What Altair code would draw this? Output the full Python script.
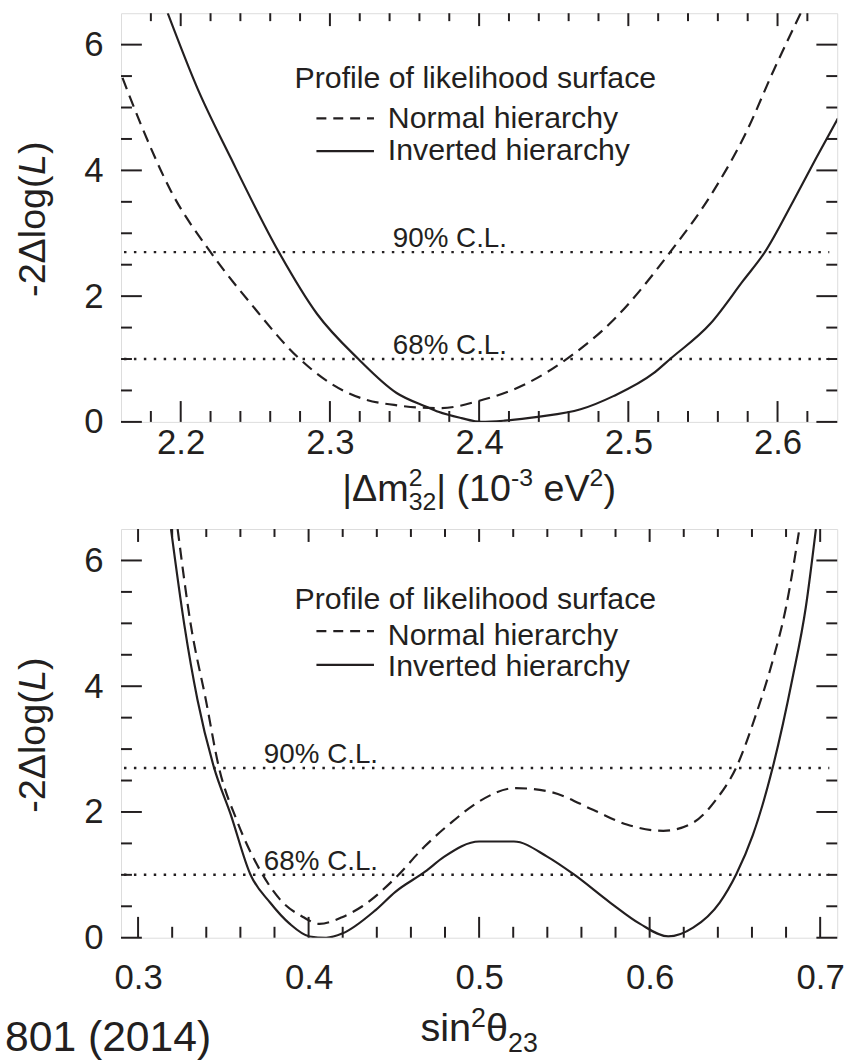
import altair as alt
import pandas as pd

FONT = "Liberation Sans"
INK = "#231f20"
W, H = 722, 412

# ---------------- top panel: |dm^2_32| ----------------
dm_nh_x = [2.161, 2.1735, 2.1935, 2.22, 2.247, 2.278, 2.300, 2.3245, 2.343, 2.358, 2.375, 2.3993,
           2.4327, 2.4593, 2.490, 2.528, 2.557, 2.5793, 2.597, 2.6155]
dm_nh_y = [5.47, 4.72, 3.67, 2.70, 1.88, 1.04, 0.62, 0.35, 0.27, 0.23, 0.22, 0.33,
           0.62, 1.01, 1.62, 2.70, 3.67, 4.62, 5.57, 6.5]
dm_ih_x = [2.1913, 2.2113, 2.2335, 2.2658, 2.2913, 2.3191, 2.3447, 2.3647, 2.3727, 2.3882, 2.4015,
           2.4171, 2.4393, 2.468, 2.490, 2.5167, 2.528, 2.5549, 2.5771, 2.5915, 2.6105, 2.626, 2.6405]
dm_ih_y = [6.5, 5.30, 4.20, 2.70, 1.72, 1.00, 0.46, 0.24, 0.16, 0.06, 0.0,
           0.02, 0.08, 0.20, 0.41, 0.77, 1.00, 1.56, 2.25, 2.70, 3.51, 4.20, 4.83]

# ---------------- bottom panel: sin^2 theta_23 ----------------
s_nh_x = [0.3232, 0.3309, 0.3397, 0.3474, 0.358, 0.3716, 0.3832, 0.3967, 0.4064, 0.42, 0.4315,
          0.4509, 0.468, 0.4845, 0.499, 0.5214, 0.5418, 0.5671, 0.5866, 0.608, 0.6255, 0.6391,
          0.6508, 0.6625, 0.6722, 0.68, 0.6878]
s_nh_y = [6.5, 4.98, 3.79, 2.71, 1.86, 1.07, 0.61, 0.33, 0.22, 0.33, 0.50,
          0.95, 1.45, 1.85, 2.15, 2.38, 2.32, 2.03, 1.80, 1.70, 1.83, 2.20,
          2.71, 3.56, 4.41, 5.26, 6.5]
s_ih_x = [0.3193, 0.3271, 0.3348, 0.3445, 0.3542, 0.3658, 0.3774, 0.389, 0.4006, 0.4103, 0.42,
          0.4393, 0.4509, 0.4683, 0.4796, 0.5, 0.5204, 0.5399, 0.5554, 0.5768, 0.5944, 0.6109,
          0.6255, 0.6411, 0.6508, 0.6605, 0.6722, 0.6838, 0.6916, 0.6975]
s_ih_y = [6.5, 4.98, 3.79, 2.71, 1.97, 1.01, 0.56, 0.22, 0.02, 0.0, 0.07,
          0.44, 0.73, 1.05, 1.29, 1.53, 1.53, 1.29, 1.01, 0.56, 0.22, 0.02,
          0.16, 0.56, 1.01, 1.63, 2.71, 4.13, 5.26, 6.5]

# confidence levels
cl_levels = [2.7, 1.0]
cl_labels = ["90% C.L.", "68% C.L."]

# ticks
y_major = [0, 2, 4, 6]
y_minor = [0.5, 1, 1.5, 2.5, 3, 3.5, 4.5, 5, 5.5]
dm_major = [2.2, 2.3, 2.4, 2.5, 2.6]
dm_minor = [2.18, 2.22, 2.24, 2.26, 2.28, 2.32, 2.34, 2.36, 2.38, 2.42, 2.44, 2.46, 2.48,
            2.52, 2.54, 2.56, 2.58, 2.62]
s_major = [0.3, 0.4, 0.5, 0.6, 0.7]
s_minor = [0.32, 0.34, 0.36, 0.38, 0.42, 0.44, 0.46, 0.48, 0.52, 0.54, 0.56, 0.58,
           0.62, 0.64, 0.66, 0.68]

legend_title = "Profile of likelihood surface"
legend_nh = "Normal hierarchy"
legend_ih = "Inverted hierarchy"

# axis titles as (text, size, dy, advances)
dm_title = [("|\u0394m", 38, 0, True), ("2", 25, -15, False), ("32", 25, 9, True),
            ("| (10", 38, 0, True), ("-3", 25, -15, True), (" eV", 38, 0, True),
            ("2", 25, -15, True), (")", 38, 0, True)]
s_title = [("sin", 40, 0, True), ("2", 27, -14, True), ("\u03b8", 40, 0, True),
           ("23", 27, 11, True)]

# Arial/Liberation Sans advance widths (per em)
ADV = {" ": .278, "(": .333, ")": .333, "-": .333, "|": .26, "\u0394": .668, "m": .833,
       "e": .556, "V": .667, "s": .5, "i": .222, "n": .556, "\u03b8": .556}
for d in "0123456789":
    ADV[d] = .556

one_df = pd.DataFrame({"k": [0]})


def tw(t, s):
    return sum(ADV.get(c, .556) for c in t) * s


def rich_title(segs, y_base):
    total = sum(tw(t, s) for t, s, dy, a in segs if a)
    x = W / 2 - total / 2
    out = []
    for t, s, dy, a in segs:
        lead = len(t) - len(t.lstrip(" "))
        body = t.lstrip(" ")
        xx = x + tw(" " * lead, s)
        out.append(alt.Chart(one_df).mark_text(text=body, font=FONT, fontSize=s, color=INK,
                                               align="left", baseline="alphabetic", dy=dy).encode(
            x=alt.value(xx), y=alt.value(y_base)))
        if a:
            x += tw(t, s)
    return out


def panel(nh_x, nh_y, ih_x, ih_y, xdom, xmaj, xmin, label_pad, xtitle, xtitle_y,
          cl_x, leg, extra=None):
    xs = alt.Scale(domain=xdom, nice=False, zero=False)
    ys = alt.Scale(domain=[0, 6.5], nice=False, zero=False)
    xaxis = alt.Axis(values=xmaj, format=".1f", title=None, domain=False, ticks=False,
                     tickSize=0, grid=False, labelFont=FONT, labelFontSize=35,
                     labelColor=INK, labelPadding=label_pad)
    yaxis = alt.Axis(values=y_major, format="d", title=None, domain=False, ticks=False,
                     tickSize=0, grid=False, labelFont=FONT, labelFontSize=35,
                     labelColor=INK, labelPadding=18)

    def X(f):
        return alt.X(f, scale=xs, axis=xaxis, title=None)

    def Y(f):
        return alt.Y(f, scale=ys, axis=yaxis, title=None)

    nh = pd.DataFrame({"x": nh_x, "y": nh_y})
    ih = pd.DataFrame({"x": ih_x, "y": ih_y})
    layers = []
    layers.append(alt.Chart(ih).mark_line(color=INK, strokeWidth=2.2, clip=True,
                                          interpolate="monotone").encode(
        x=X("x:Q"), y=Y("y:Q")))
    layers.append(alt.Chart(nh).mark_line(color=INK, strokeWidth=2.2, strokeDash=[12, 7],
                                          clip=True, interpolate="monotone").encode(
        x=X("x:Q"), y=Y("y:Q")))

    cl = pd.DataFrame({"lv": cl_levels, "lab": cl_labels})
    layers.append(alt.Chart(cl).mark_rule(color=INK, strokeWidth=2.5, strokeDash=[2.5, 7.5]).encode(
        y=Y("lv:Q"), x=alt.value(3), x2=alt.value(W - 8)))
    layers.append(alt.Chart(cl).mark_text(font=FONT, fontSize=28, color=INK, align="left",
                                          baseline="alphabetic", dy=-5).encode(
        y=Y("lv:Q"), x=alt.value(cl_x), text="lab:N"))

    # ticks (inside, all four sides)
    for vals, lb, lt in [(xmaj, 21, 13), (xmin, 11, 8)]:
        d = pd.DataFrame({"v": vals})
        b = alt.Chart(d).mark_rule(color=INK, strokeWidth=2)
        layers.append(b.encode(x=X("v:Q"), y=alt.value(H), y2=alt.value(H - lb)))
        layers.append(b.encode(x=X("v:Q"), y=alt.value(0), y2=alt.value(lt)))
    for vals, ln in [(y_major, 21), (y_minor, 11)]:
        d = pd.DataFrame({"v": vals})
        b = alt.Chart(d).mark_rule(color=INK, strokeWidth=2)
        layers.append(b.encode(y=Y("v:Q"), x=alt.value(0), x2=alt.value(ln)))
        layers.append(b.encode(y=Y("v:Q"), x=alt.value(W), x2=alt.value(W - ln)))

    # legend
    t_y, n_y, i_y, sd_y, ss_y = leg
    txt = dict(font=FONT, fontSize=30.5, color=INK, align="left", baseline="alphabetic")
    layers.append(alt.Chart(one_df).mark_text(text=legend_title, **txt).encode(
        x=alt.value(175), y=alt.value(t_y)))
    layers.append(alt.Chart(one_df).mark_text(text=legend_nh, **txt).encode(
        x=alt.value(269), y=alt.value(n_y)))
    layers.append(alt.Chart(one_df).mark_text(text=legend_ih, **txt).encode(
        x=alt.value(269), y=alt.value(i_y)))
    layers.append(alt.Chart(one_df).mark_rule(color=INK, strokeWidth=2.2, strokeDash=[10, 7]).encode(
        x=alt.value(197), x2=alt.value(255), y=alt.value(sd_y)))
    layers.append(alt.Chart(one_df).mark_rule(color=INK, strokeWidth=2.2).encode(
        x=alt.value(197), x2=alt.value(255), y=alt.value(ss_y)))

    # x title
    layers.extend(rich_title(xtitle, H + xtitle_y))

    # y title: -2Δlog(L) with italic L
    ytl = dict(font=FONT, fontSize=38, color=INK, align="left", baseline="alphabetic", angle=270)
    y0 = H / 2 + 80
    layers.append(alt.Chart(one_df).mark_text(text="-2\u0394log(", **ytl).encode(
        x=alt.value(-77), y=alt.value(y0)))
    layers.append(alt.Chart(one_df).mark_text(text="L", fontStyle="italic", **ytl).encode(
        x=alt.value(-77), y=alt.value(y0 - 123)))
    layers.append(alt.Chart(one_df).mark_text(text=")", **ytl).encode(
        x=alt.value(-77), y=alt.value(y0 - 144)))

    if extra is not None:
        layers.append(extra)

    return alt.layer(*layers).properties(width=W, height=H)


citation = alt.Chart(one_df).mark_text(text="801 (2014)", font=FONT, fontSize=43, color=INK,
                                       align="left", baseline="alphabetic").encode(
    x=alt.value(-117), y=alt.value(H + 114))

top = panel(dm_nh_x, dm_nh_y, dm_ih_x, dm_ih_y, [2.16, 2.64], dm_major, dm_minor, 4,
            dm_title, 80, 274, (75, 116, 148, 106, 139))
bottom = panel(s_nh_x, s_nh_y, s_ih_x, s_ih_y, [0.29, 0.71], s_major, s_minor, 23,
               s_title, 104, 144, (81, 117, 148, 103, 137), extra=citation)

chart = alt.vconcat(top, bottom, spacing=11).properties(
    padding={"left": 4, "top": 7, "right": 19, "bottom": 0}
).configure_view(stroke=INK, strokeWidth=2.5).configure(background="white")

chart.save("out.html", embed_options={"renderer": "svg", "actions": False})
